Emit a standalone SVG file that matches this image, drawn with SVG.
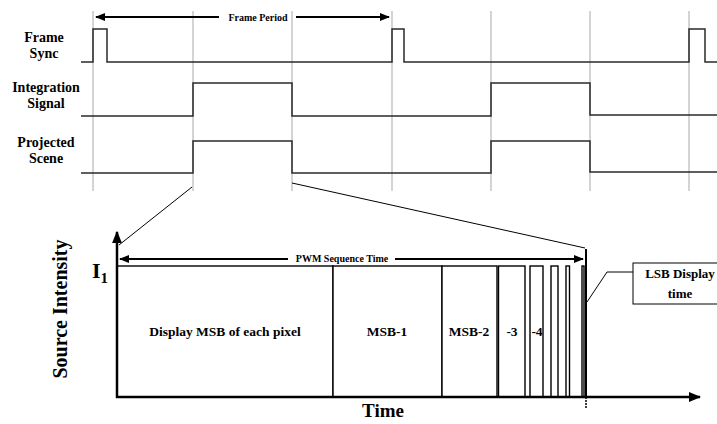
<svg xmlns="http://www.w3.org/2000/svg" width="717" height="424" viewBox="0 0 717 424">
<defs>
<style>
.lbl{font-family:"Liberation Serif","Times New Roman",serif;font-weight:bold;fill:#000}
.guide{stroke:#c8c5c0;stroke-width:1.5;fill:none}
.sig{stroke:#2a2a2a;stroke-width:1.5;fill:none}
.bar{stroke:#000;stroke-width:1.4;fill:#fff}
.thin{stroke:#000;stroke-width:1;fill:none}
.arr{stroke:#000;stroke-width:2;fill:none}
</style>
<marker id="ah" viewBox="0 0 10 10" refX="9" refY="5" markerWidth="5" markerHeight="5" orient="auto-start-reverse">
<path d="M0,1 L10,5 L0,9 z" fill="#000"/>
</marker>
</defs>
<rect width="717" height="424" fill="#fff"/>

<g id="guides">
<line class="guide" x1="93" y1="11" x2="93" y2="191"/>
<line class="guide" x1="193" y1="11" x2="193" y2="191"/>
<line class="guide" x1="292" y1="11" x2="292" y2="191"/>
<line class="guide" x1="392" y1="11" x2="392" y2="191"/>
<line class="guide" x1="491" y1="11" x2="491" y2="191"/>
<line class="guide" x1="590" y1="11" x2="590" y2="191"/>
<line class="guide" x1="689" y1="11" x2="689" y2="191"/>
</g>

<g id="frame-sync">
<text class="lbl" font-size="14" text-anchor="middle" x="44" y="42">Frame</text>
<text class="lbl" font-size="14" text-anchor="middle" x="44" y="58">Sync</text>
<polyline class="sig" points="81,62 93,62 93,29 107,29 107,62 392,62 392,29 404,29 404,62 689,62 689,29 705,29 705,62 717,62"/>
</g>

<g id="integration-signal">
<text class="lbl" font-size="14" text-anchor="middle" x="46" y="92">Integration</text>
<text class="lbl" font-size="14" text-anchor="middle" x="46" y="108">Signal</text>
<polyline class="sig" points="81,116 193,116 193,83 292,83 292,116 491,116 491,83 590,83 590,115 717,115"/>
</g>

<g id="projected-scene">
<text class="lbl" font-size="14" text-anchor="middle" x="46" y="147">Projected</text>
<text class="lbl" font-size="14" text-anchor="middle" x="46" y="163">Scene</text>
<polyline class="sig" points="81,173 193,173 193,141 292,141 292,173 491,173 491,141 590,141 590,172 717,172"/>
</g>

<g id="frame-period">
<line class="arr" x1="219" y1="17" x2="96" y2="17" marker-end="url(#ah)"/>
<line class="arr" x1="296" y1="17" x2="389" y2="17" marker-end="url(#ah)"/>
<text class="lbl" font-size="10" text-anchor="middle" x="258" y="21">Frame Period</text>
</g>

<g id="connectors">
<line class="thin" x1="192" y1="187" x2="119" y2="245"/>
<line class="thin" x1="292" y1="183" x2="585" y2="248"/>
<polyline class="thin" points="633,272 607,272 587,302"/>
</g>

<g id="bars">
<rect class="bar" x="117" y="266" width="216" height="131"/>
<rect class="bar" x="333" y="266" width="109" height="131"/>
<rect class="bar" x="442" y="266" width="55" height="131"/>
<rect class="bar" x="498.5" y="266" width="26.5" height="131"/>
<rect class="bar" x="530" y="266" width="13" height="131"/>
<rect class="bar" x="551" y="266" width="7" height="131"/>
<rect class="bar" x="566" y="266" width="3.5" height="131"/>
<rect class="bar" x="582" y="266" width="2" height="131"/>
<text class="lbl" font-size="13.5" text-anchor="middle" x="225" y="336">Display MSB of each pixel</text>
<text class="lbl" font-size="13.5" text-anchor="middle" x="387" y="336">MSB-1</text>
<text class="lbl" font-size="13.5" text-anchor="middle" x="469" y="336">MSB-2</text>
<text class="lbl" font-size="13.5" text-anchor="middle" x="512" y="336">-3</text>
<text class="lbl" font-size="13.5" text-anchor="middle" x="537" y="336">-4</text>
</g>

<g id="axes">
<line x1="117" y1="398" x2="117" y2="232" stroke="#000" stroke-width="2.5" marker-end="url(#ah)"/>
<line x1="116" y1="397" x2="700" y2="397" stroke="#000" stroke-width="2.5" marker-end="url(#ah)"/>
<line x1="586" y1="249" x2="586" y2="397" stroke="#000" stroke-width="2"/>
<line x1="586" y1="397" x2="586" y2="408" stroke="#000" stroke-width="1.5" stroke-dasharray="2,1"/>
<text class="lbl" font-size="20" text-anchor="middle" transform="translate(67,309) rotate(-90)">Source Intensity</text>
<text class="lbl" font-size="22" x="92" y="278">I<tspan font-size="15" dy="5">1</tspan></text>
<text class="lbl" font-size="19" text-anchor="middle" x="383" y="417">Time</text>
</g>

<g id="pwm-sequence">
<line class="arr" x1="288" y1="259" x2="120" y2="259" marker-end="url(#ah)"/>
<line class="arr" x1="395" y1="259" x2="583" y2="259" marker-end="url(#ah)"/>
<text class="lbl" font-size="10" text-anchor="middle" x="342" y="262">PWM Sequence Time</text>
</g>

<g id="lsb-box">
<rect x="633" y="263" width="95" height="41" fill="#fff" stroke="#000" stroke-width="1"/>
<text class="lbl" font-size="13" text-anchor="middle" x="680" y="278">LSB Display</text>
<text class="lbl" font-size="13" text-anchor="middle" x="680" y="298">time</text>
</g>
</svg>
